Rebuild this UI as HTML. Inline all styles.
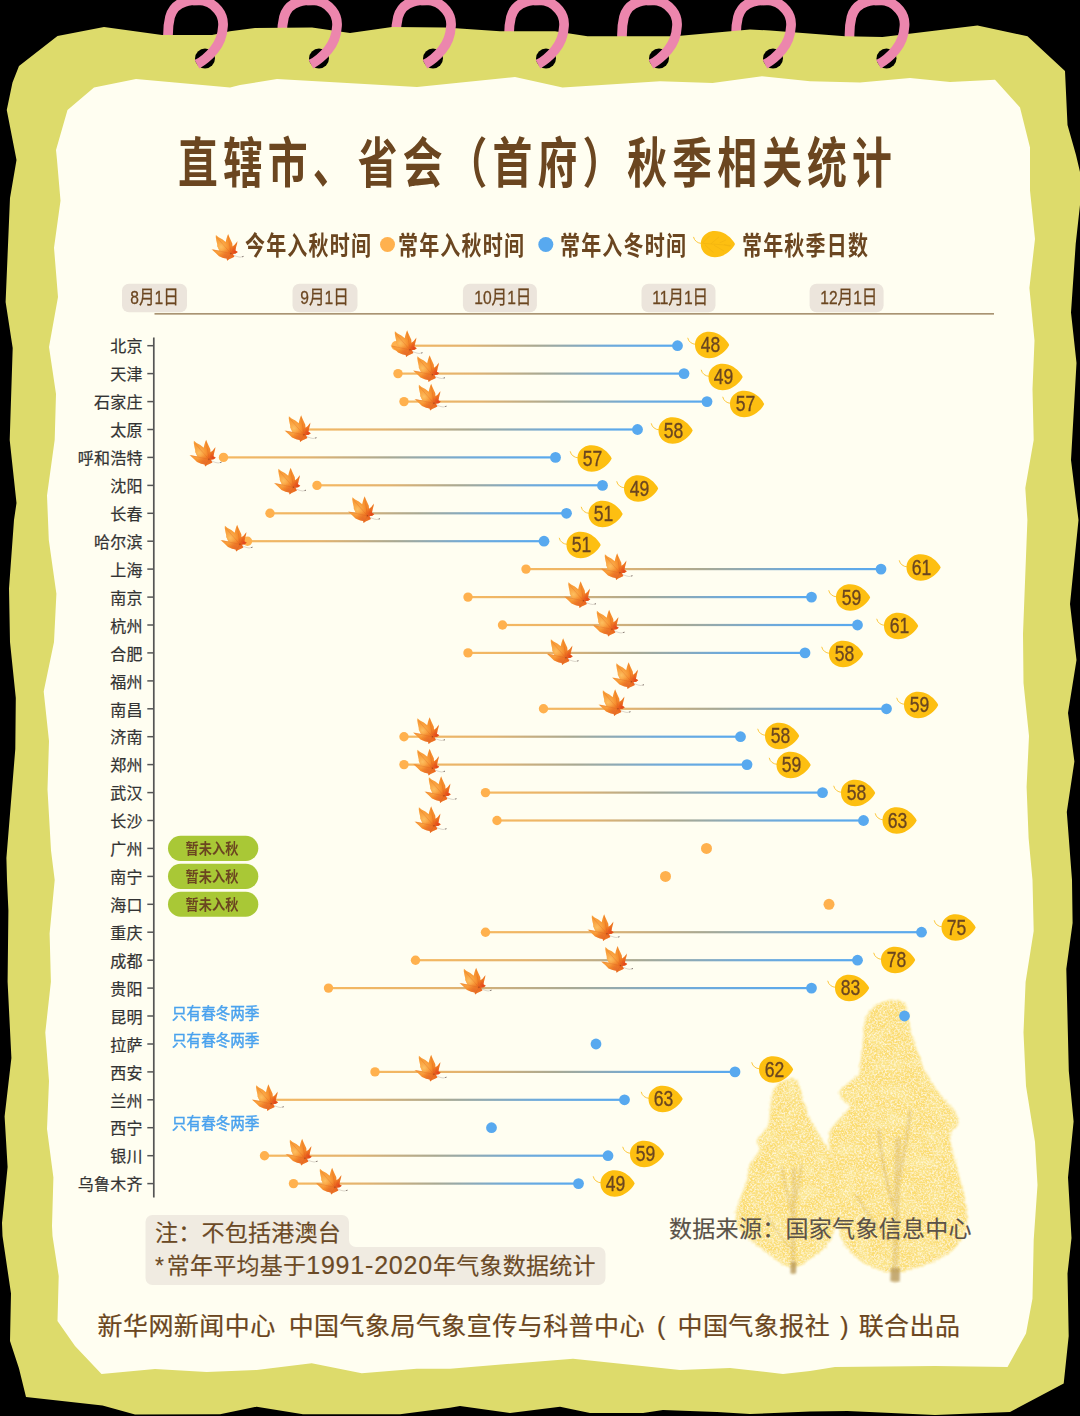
<!DOCTYPE html>
<html lang="zh-CN">
<head>
<meta charset="utf-8">
<title>直辖市、省会（首府）秋季相关统计</title>
<style>
html,body{margin:0;padding:0;background:#000;}
body{width:1080px;height:1416px;position:relative;overflow:hidden;font-family:"Liberation Sans","Noto Sans CJK SC",sans-serif;}
svg{position:absolute;left:0;top:0;}
.t{position:absolute;white-space:nowrap;line-height:1;}
.h{opacity:1;}
.title{left:177.5px;top:136.5px;font-size:54px;font-weight:bold;color:#6b4620;transform-origin:0 0;transform:scaleX(.737);letter-spacing:6.97px;}
.lg{font-size:26px;font-weight:bold;color:#6b4620;top:232.7px;transform-origin:0 0;transform:scaleX(.77);letter-spacing:1.5px;}
.ax{font-size:19px;color:#6b4620;top:288px;width:65px;text-align:center;-webkit-text-stroke:.3px #6b4620;}
.ax span{display:inline-block;transform:scaleX(.82);}
.city{font-size:16px;color:#333;width:100px;text-align:right;left:42.8px;letter-spacing:.25px;-webkit-text-stroke:.22px #333;}
.num{font-size:22.5px;color:#6b4620;width:34px;text-align:center;-webkit-text-stroke:.35px #6b4620;}
.num span{display:inline-block;transform:scaleX(.78);}
.pill{font-size:15px;font-weight:bold;color:#6b4620;width:90px;text-align:center;left:167px;}
.pill span{display:inline-block;transform:scaleX(.88);}
.two{font-size:15.5px;color:#4aa2ee;left:172px;-webkit-text-stroke:.45px #4aa2ee;transform-origin:0 0;transform:scaleX(.94);}
.note{font-size:23px;color:#6b4a26;left:155px;letter-spacing:.25px;-webkit-text-stroke:.15px #6b4a26;}
.note b{font-weight:normal;font-size:25px;letter-spacing:.8px;line-height:0;}
.note u{text-decoration:none;margin-right:2.5px;}
.src{font-size:23px;color:#5a5248;left:669px;top:1217.5px;letter-spacing:.3px;-webkit-text-stroke:.15px #5a5248;}
.foot{font-size:25px;color:#6b4620;left:97.5px;top:1313.5px;letter-spacing:.45px;-webkit-text-stroke:.2px #6b4620;}
.foot i{display:inline-block;font-style:normal;text-align:center;letter-spacing:0;}
</style>
</head>
<body>
<svg width="1080" height="1416" viewBox="0 0 1080 1416">
<defs>
<linearGradient id="lg" x1="0" x2="1" y1="0" y2="0"><stop offset="0" stop-color="#f6b860"/><stop offset=".25" stop-color="#e3b36f"/><stop offset=".5" stop-color="#a9a993"/><stop offset=".75" stop-color="#6faada"/><stop offset="1" stop-color="#58a9ef"/></linearGradient>
<linearGradient id="mg" x1="2" y1="4" x2="26" y2="22" gradientUnits="userSpaceOnUse"><stop offset="0" stop-color="#f9a23c"/><stop offset=".5" stop-color="#f68e2c"/><stop offset="1" stop-color="#ec6a1e"/></linearGradient>
<radialGradient id="mh" cx="9.5" cy="13" r="9" gradientUnits="userSpaceOnUse"><stop offset="0" stop-color="#fdc163" stop-opacity=".95"/><stop offset="1" stop-color="#fdb450" stop-opacity="0"/></radialGradient>
<radialGradient id="md" cx="23.5" cy="18" r="7" gradientUnits="userSpaceOnUse"><stop offset="0" stop-color="#e3401a" stop-opacity=".95"/><stop offset="1" stop-color="#e8581b" stop-opacity="0"/></radialGradient>
<radialGradient id="mb" cx="15" cy="23" r="8" gradientUnits="userSpaceOnUse"><stop offset="0" stop-color="#e46a2c" stop-opacity=".8"/><stop offset="1" stop-color="#e8701f" stop-opacity="0"/></radialGradient>
<path id="mo" d="M4.4 1 L7.1 3.3 L10.8 5.2 L14.2 7.9 L15 4.4 L16 1.5 L16.7 0 L17.5 2.3 L19.2 6 L20.8 9.4 L21 12.5 L23.3 10.6 L25.2 8.3 L25.9 7.1 L25.6 9.8 L24.6 13.1 L23.9 16.5 L26.3 17.9 L24.2 19.4 L21.3 19.9 L22.9 22.7 L20.4 24 L17.5 25.2 L15.6 26.7 L15.2 24.6 L11.7 24 L7.5 22.3 L4.2 19 L0 15.3 L3.8 16 L7.9 16.7 L5.8 12.3 L5.8 10.6 L4.8 6.5 L4.25 3.1 Z"/>
<g id="maple">
<path d="M19.5 19.6 C22.5 21.6 25.8 22.9 28.7 23.2 L32 22.4" fill="none" stroke="#7a6a60" stroke-width=".45" opacity=".6"/><path d="M30.6 22.8 L32 22.4" fill="none" stroke="#4a3a34" stroke-width=".7" opacity=".85"/>
<use href="#mo" fill="url(#mg)"/><use href="#mo" fill="url(#mh)"/><use href="#mo" fill="url(#mb)"/><use href="#mo" fill="url(#md)"/>
<path d="M19.5 19.6 L5.2 3.2 M19.5 19.6 L16.7 1.5 M19.5 19.6 L25.3 8.6 M19.5 19.6 L1.5 15.7 M19.5 19.6 L15.7 25.8 M19.5 19.6 L25.3 18" fill="none" stroke="#d6581c" stroke-width=".45" opacity=".55"/>
<circle cx="19.4" cy="19.5" r=".7" fill="#7a3a1c" opacity=".5"/>
</g>
<g id="badge">
<path d="M0.5 12.5 C-3 12.3 -6.5 10 -7.3 6" fill="none" stroke="#fcc22a" stroke-width=".9"/>
<path d="M34.2 13.2 C32.6 9.4 27 3 19.5 0.8 C15 -0.4 10 -0.2 6.5 2 C2.5 4.5 0 8 0 13.2 C0 18.4 2.5 21.9 6.5 24.4 C10 26.6 15 26.8 19.5 25.6 C27 23.4 32.6 17 34.2 13.2 Z" fill="#fdbf11"/>
</g>
<g id="ringA">
<path d="M5 46 L5 35 C5 28 5.5 23 7 17 C9 10 14 4 22 1.8 C27 0.3 31 0.2 36 0.2" fill="none" stroke="#ec86ad" stroke-width="9.7"/>
</g>
<g id="ringB">
<circle cx="42" cy="58.5" r="10" fill="#000"/>
<path d="M30 0.4 L35 0.2 C42 0.2 50 3.5 55 10 C59 15 60.5 20 60 26 C59.5 36 56 44 51 50 C46 56 41 60.5 34 64.3" fill="none" stroke="#ec86ad" stroke-width="9.7" stroke-linejoin="round"/>
</g>
<filter id="tex" x="-10%" y="-10%" width="120%" height="120%">
<feTurbulence type="fractalNoise" baseFrequency="0.55" numOctaves="2" seed="7" result="n"/>
<feTurbulence type="fractalNoise" baseFrequency="0.07" numOctaves="2" seed="11" result="n2"/>
<feDisplacementMap in="SourceGraphic" in2="n" scale="6" xChannelSelector="R" yChannelSelector="G" result="d"/>
<feGaussianBlur in="d" stdDeviation="0.9" result="b"/>
<feColorMatrix in="n" type="matrix" values="0 0 0 0 1  0 0 0 0 0.97  0 0 0 0 0.78  2.2 0 0 0 -0.9" result="spk"/>
<feColorMatrix in="n2" type="matrix" values="0 0 0 0 0.97  0 0 0 0 0.79  0 0 0 0 0.27  2.4 0 0 0 -0.95" result="deep"/>
<feComposite in="spk" in2="b" operator="in" result="spk2"/>
<feComposite in="deep" in2="b" operator="in" result="deep2"/>
<feMerge><feMergeNode in="b"/><feMergeNode in="deep2"/><feMergeNode in="spk2"/></feMerge>
</filter><filter id="bl" x="-20%" y="-5%" width="140%" height="110%"><feGaussianBlur stdDeviation="0.8"/></filter></defs>
<use href="#ringA" x="163" y="0"/>
<use href="#ringA" x="277" y="0"/>
<use href="#ringA" x="391" y="0"/>
<use href="#ringA" x="504" y="0"/>
<use href="#ringA" x="617" y="0"/>
<use href="#ringA" x="731" y="0"/>
<use href="#ringA" x="844.5" y="0"/>
<polygon points="6.75,110 12.5,82.5 19,66 57.5,36 104,27 162,35 212,35 230,31.2 255,28 312,27.5 350,33 392,27 445,27.5 500,31.2 555,31.2 587.5,36.2 675,36.2 750,29.5 770,30.5 845,36.2 882.5,37 977.5,25.5 1027.5,36.2 1065,71 1067.5,125 1076,155 1080,172 1080,205 1075.7,244 1071,312.5 1076.5,363 1071,460 1075.7,498 1078.5,520 1070,604 1076.5,660 1068,713 1074.4,761.5 1066.8,812 1072,880 1072.6,923 1066.3,969 1068.8,1071 1073.6,1121.5 1068,1177.5 1071.5,1238 1067.5,1273.5 1068.7,1336 1063.7,1383.5 1010,1412 935,1415 847.5,1411 810,1411.5 750,1414 717,1412 663,1410 643,1413 590,1413 560,1406.7 510,1413 460,1406 450,1407.7 400,1414.3 303,1414.3 256.7,1406.7 220,1414.3 135,1414.4 102.5,1405.6 26,1397 19,1368.5 10,1341 11,1293.5 2.5,1236 2,1223 7.6,1167 4.6,1116.5 11.4,1058 7.6,981.7 8.4,910.5 7,880 6.4,858 15.3,749 15.8,698 10,642 9,588.6 14,520 16.5,503 9.7,440 12.7,348 5.6,302 10,198 16.5,160" fill="#dddb6b"/>
<polygon points="56,150 67.5,110 94,87.5 136,79 230,87.5 240,85 277,79 417,87 515,77 562.5,87.5 660,81.2 712.5,83 762,76.3 810,81.2 860,82.5 910,78 950,82 995,79.8 1020,107.5 1030,147.5 1030,190.5 1035,239 1029.4,288 1034.5,340.5 1032.5,389 1033.7,440 1025.3,488 1027.4,520 1023,634 1023.5,683 1029,736 1026.6,787 1028.6,838 1032.5,880 1033.7,931 1025.6,982 1023.5,1032.5 1026,1086 1035,1142 1037.5,1185 1033.7,1240 1032.5,1298.5 1026,1333.5 1007.5,1367 935,1366 835,1367 810,1371 783,1374 730,1368 680,1370 573,1358.7 450,1368.7 416.7,1368.7 361.7,1373.3 311.7,1363.3 256.7,1370 206.7,1372 155,1369 101.5,1374 75,1346 57.5,1321 58.7,1276 52.5,1236 52,1226 53.4,1177.5 47,1129 49,1081 45.3,1032.5 50.9,981.7 49.6,933.4 54.7,880 51,850.5 47.5,789.5 49,741 43.7,691.6 54,642 56.4,593.7 48.8,540 48,520 47,495.6 54.7,439.7 56,394 49,347 58,297 54,247.7 60.5,200.7 57,160" fill="#fffef1"/>
<g opacity=".95">
<path d="M787.5 1080.0C783.8 1080.8 777.8 1083.3 775.0 1087.5C772.2 1091.7 772.1 1098.8 771.0 1105.0C769.9 1111.2 770.8 1119.2 768.5 1125.0C766.2 1130.8 758.9 1135.8 757.5 1140.0C756.1 1144.2 761.2 1145.8 760.0 1150.0C758.8 1154.2 752.1 1160.0 750.0 1165.0C747.9 1170.0 749.0 1174.6 747.5 1180.0C746.0 1185.4 742.9 1191.7 741.0 1197.5C739.1 1203.3 736.2 1209.6 736.0 1215.0C735.8 1220.4 736.4 1225.0 740.0 1230.0C743.6 1235.0 752.5 1240.8 757.5 1245.0C762.5 1249.2 765.4 1251.7 770.0 1255.0C774.6 1258.3 781.2 1263.0 785.0 1265.0C788.8 1267.0 790.5 1267.0 793.0 1267.0C795.5 1267.0 796.3 1267.0 800.0 1265.0C803.7 1263.0 810.0 1259.2 815.0 1255.0C820.0 1250.8 826.2 1246.7 830.0 1240.0C833.8 1233.3 836.8 1223.3 838.0 1215.0C839.2 1206.7 837.3 1198.3 837.0 1190.0C836.7 1181.7 837.2 1171.2 836.0 1165.0C834.8 1158.8 832.7 1157.1 830.0 1152.5C827.3 1147.9 823.3 1142.9 820.0 1137.5C816.7 1132.1 812.9 1126.2 810.0 1120.0C807.1 1113.8 804.6 1106.2 802.5 1100.0C800.4 1093.8 800.0 1085.8 797.5 1082.5C795.0 1079.2 791.2 1079.2 787.5 1080.0Z" fill="#fbdc6c" filter="url(#tex)"/>
<path d="M891.0 1001.0C886.0 1001.2 879.3 1002.5 875.0 1006.0C870.7 1009.5 866.9 1016.3 865.0 1022.0C863.1 1027.7 864.3 1032.8 863.5 1040.0C862.7 1047.2 860.8 1059.2 860.0 1065.0C859.2 1070.8 861.7 1070.8 858.5 1075.0C855.3 1079.2 843.5 1085.8 841.0 1090.0C838.5 1094.2 842.0 1097.1 843.5 1100.0C845.0 1102.9 852.1 1102.5 850.0 1107.5C847.9 1112.5 834.3 1122.9 831.0 1130.0C827.7 1137.1 829.3 1144.2 830.0 1150.0C830.7 1155.8 834.6 1158.3 835.0 1165.0C835.4 1171.7 832.1 1181.7 832.5 1190.0C832.9 1198.3 835.8 1206.7 837.5 1215.0C839.2 1223.3 838.8 1232.5 842.5 1240.0C846.2 1247.5 853.3 1255.0 860.0 1260.0C866.7 1265.0 876.7 1268.0 882.5 1270.0C888.3 1272.0 890.8 1272.0 895.0 1272.0C899.2 1272.0 901.7 1271.6 907.5 1270.0C913.3 1268.4 922.5 1265.8 930.0 1262.5C937.5 1259.2 946.7 1255.4 952.5 1250.0C958.3 1244.6 962.7 1236.7 965.0 1230.0C967.3 1223.3 967.3 1218.3 966.5 1210.0C965.7 1201.7 962.3 1189.6 960.0 1180.0C957.7 1170.4 954.2 1160.4 952.5 1152.5C950.8 1144.6 949.2 1137.1 950.0 1132.5C950.8 1127.9 956.7 1128.3 957.5 1125.0C958.3 1121.7 957.9 1117.5 955.0 1112.5C952.1 1107.5 945.0 1101.7 940.0 1095.0C935.0 1088.3 928.8 1079.6 925.0 1072.5C921.2 1065.4 920.0 1059.6 917.5 1052.5C915.0 1045.4 912.1 1037.9 910.0 1030.0C907.9 1022.1 908.2 1009.8 905.0 1005.0C901.8 1000.2 896.0 1000.8 891.0 1001.0Z" fill="#fbdc6c" filter="url(#tex)"/>
</g>
<g fill="none" stroke="#c9a55c" stroke-linecap="round" opacity=".3" filter="url(#bl)"><path d="M793 1272 L794 1170" stroke-width="4.5"/><path d="M792 1215 C788 1195 784 1180 782 1168" stroke-width="2.5"/><path d="M794.5 1205 C798 1190 800 1178 801.5 1165" stroke-width="2.5"/><path d="M895 1280 L898 1140" stroke-width="6"/><path d="M893 1205 C886 1180 880 1150 879 1130" stroke-width="3.5"/><path d="M897.5 1190 C903 1160 908 1130 910 1112" stroke-width="3.5"/><path d="M889 1240 C875 1225 862 1205 856 1195" stroke-width="2.5"/><path d="M790 1248 C782 1238 772 1225 767 1215" stroke-width="2"/></g><g fill="none" stroke="#b8995a" opacity=".75" filter="url(#bl)"><path d="M793.3 1273.5 L793.6 1262" stroke-width="5.5"/><path d="M895 1281.5 L895.4 1268" stroke-width="9.5"/></g>
<use href="#ringB" x="163" y="0"/>
<use href="#ringB" x="277" y="0"/>
<use href="#ringB" x="391" y="0"/>
<use href="#ringB" x="504" y="0"/>
<use href="#ringB" x="617" y="0"/>
<use href="#ringB" x="731" y="0"/>
<use href="#ringB" x="844.5" y="0"/>
<rect x="122.0" y="283.7" width="65" height="28.6" rx="7" fill="#ece5dc"/>
<rect x="292.5" y="283.7" width="65" height="28.6" rx="7" fill="#ece5dc"/>
<rect x="462.9" y="283.7" width="74" height="28.6" rx="7" fill="#ece5dc"/>
<rect x="641.5" y="283.7" width="74" height="28.6" rx="7" fill="#ece5dc"/>
<rect x="809.6" y="283.7" width="74" height="28.6" rx="7" fill="#ece5dc"/>
<line x1="154.5" y1="313.9" x2="994" y2="313.9" stroke="#8d7049" stroke-width="1.4"/>
<line x1="153.8" y1="337.5" x2="153.8" y2="1197.5" stroke="#555" stroke-width="1.7"/>
<line x1="147.3" y1="345.7" x2="153.8" y2="345.7" stroke="#555" stroke-width="1.5"/>
<line x1="147.3" y1="373.6" x2="153.8" y2="373.6" stroke="#555" stroke-width="1.5"/>
<line x1="147.3" y1="401.6" x2="153.8" y2="401.6" stroke="#555" stroke-width="1.5"/>
<line x1="147.3" y1="429.5" x2="153.8" y2="429.5" stroke="#555" stroke-width="1.5"/>
<line x1="147.3" y1="457.4" x2="153.8" y2="457.4" stroke="#555" stroke-width="1.5"/>
<line x1="147.3" y1="485.4" x2="153.8" y2="485.4" stroke="#555" stroke-width="1.5"/>
<line x1="147.3" y1="513.3" x2="153.8" y2="513.3" stroke="#555" stroke-width="1.5"/>
<line x1="147.3" y1="541.2" x2="153.8" y2="541.2" stroke="#555" stroke-width="1.5"/>
<line x1="147.3" y1="569.1" x2="153.8" y2="569.1" stroke="#555" stroke-width="1.5"/>
<line x1="147.3" y1="597.1" x2="153.8" y2="597.1" stroke="#555" stroke-width="1.5"/>
<line x1="147.3" y1="625.0" x2="153.8" y2="625.0" stroke="#555" stroke-width="1.5"/>
<line x1="147.3" y1="652.9" x2="153.8" y2="652.9" stroke="#555" stroke-width="1.5"/>
<line x1="147.3" y1="680.9" x2="153.8" y2="680.9" stroke="#555" stroke-width="1.5"/>
<line x1="147.3" y1="708.8" x2="153.8" y2="708.8" stroke="#555" stroke-width="1.5"/>
<line x1="147.3" y1="736.7" x2="153.8" y2="736.7" stroke="#555" stroke-width="1.5"/>
<line x1="147.3" y1="764.6" x2="153.8" y2="764.6" stroke="#555" stroke-width="1.5"/>
<line x1="147.3" y1="792.6" x2="153.8" y2="792.6" stroke="#555" stroke-width="1.5"/>
<line x1="147.3" y1="820.5" x2="153.8" y2="820.5" stroke="#555" stroke-width="1.5"/>
<line x1="147.3" y1="848.4" x2="153.8" y2="848.4" stroke="#555" stroke-width="1.5"/>
<line x1="147.3" y1="876.4" x2="153.8" y2="876.4" stroke="#555" stroke-width="1.5"/>
<line x1="147.3" y1="904.3" x2="153.8" y2="904.3" stroke="#555" stroke-width="1.5"/>
<line x1="147.3" y1="932.2" x2="153.8" y2="932.2" stroke="#555" stroke-width="1.5"/>
<line x1="147.3" y1="960.2" x2="153.8" y2="960.2" stroke="#555" stroke-width="1.5"/>
<line x1="147.3" y1="988.1" x2="153.8" y2="988.1" stroke="#555" stroke-width="1.5"/>
<line x1="147.3" y1="1016.0" x2="153.8" y2="1016.0" stroke="#555" stroke-width="1.5"/>
<line x1="147.3" y1="1044.0" x2="153.8" y2="1044.0" stroke="#555" stroke-width="1.5"/>
<line x1="147.3" y1="1071.9" x2="153.8" y2="1071.9" stroke="#555" stroke-width="1.5"/>
<line x1="147.3" y1="1099.8" x2="153.8" y2="1099.8" stroke="#555" stroke-width="1.5"/>
<line x1="147.3" y1="1127.7" x2="153.8" y2="1127.7" stroke="#555" stroke-width="1.5"/>
<line x1="147.3" y1="1155.7" x2="153.8" y2="1155.7" stroke="#555" stroke-width="1.5"/>
<line x1="147.3" y1="1183.6" x2="153.8" y2="1183.6" stroke="#555" stroke-width="1.5"/>
<use href="#maple" x="211.5" y="234"/>
<circle cx="387.5" cy="244.5" r="7.5" fill="#ffb14e"/>
<circle cx="545.8" cy="244.5" r="7.5" fill="#58a9ef"/>
<use href="#badge" x="700.8" y="230.9"/>
<path d="M702.5 243.3 L731 245.5 M702.5 243 L709.5 236 M711 243.8 L719 236.8 M719.5 242.8 L726 240 M705 245 L713.5 252.5 M714 245.2 L724 251 M724 244.5 L730.5 246.5" fill="none" stroke="#eeb010" stroke-width=".7" opacity=".75"/>
<path d="M153 1215 H342 a7 7 0 0 1 7 7 V1240 a7 7 0 0 0 7 7 H598.5 a7 7 0 0 1 7 7 V1278 a7 7 0 0 1 -7 7 H152.5 a7 7 0 0 1 -7 -7 V1222 a7 7 0 0 1 7 -7 Z" fill="#f0ebe1"/>
<rect x="396" y="344.6" width="281.5" height="2.2" fill="url(#lg)"/>
<circle cx="396" cy="345.7" r="4.7" fill="#ffb14e"/>
<circle cx="677.5" cy="345.7" r="5.4" fill="#58a9ef"/>
<use href="#badge" x="695" y="331.8"/>
<use href="#maple" x="390.5" y="330.3"/>
<rect x="398" y="372.5" width="286" height="2.2" fill="url(#lg)"/>
<circle cx="398" cy="373.6" r="4.7" fill="#ffb14e"/>
<circle cx="684" cy="373.6" r="5.4" fill="#58a9ef"/>
<use href="#badge" x="708.5" y="363.8"/>
<use href="#maple" x="413.0" y="355.3"/>
<rect x="404" y="400.5" width="303" height="2.2" fill="url(#lg)"/>
<circle cx="404" cy="401.6" r="4.7" fill="#ffb14e"/>
<circle cx="707" cy="401.6" r="5.4" fill="#58a9ef"/>
<use href="#badge" x="730" y="390.8"/>
<use href="#maple" x="414.5" y="383.8"/>
<rect x="299" y="428.4" width="338.5" height="2.2" fill="url(#lg)"/>
<circle cx="637.5" cy="429.5" r="5.4" fill="#58a9ef"/>
<use href="#badge" x="658.5" y="417.3"/>
<use href="#maple" x="284.5" y="415.3"/>
<rect x="223.5" y="456.3" width="332.0" height="2.2" fill="url(#lg)"/>
<circle cx="223.5" cy="457.4" r="4.7" fill="#ffb14e"/>
<circle cx="555.5" cy="457.4" r="5.4" fill="#58a9ef"/>
<use href="#badge" x="577.5" y="445.3"/>
<use href="#maple" x="189.5" y="439.8"/>
<rect x="317" y="484.2" width="285.5" height="2.2" fill="url(#lg)"/>
<circle cx="317" cy="485.4" r="4.7" fill="#ffb14e"/>
<circle cx="602.5" cy="485.4" r="5.4" fill="#58a9ef"/>
<use href="#badge" x="624" y="475.3"/>
<use href="#maple" x="274.0" y="467.8"/>
<rect x="270" y="512.2" width="296.5" height="2.2" fill="url(#lg)"/>
<circle cx="270" cy="513.3" r="4.7" fill="#ffb14e"/>
<circle cx="566.5" cy="513.3" r="5.4" fill="#58a9ef"/>
<use href="#badge" x="588.5" y="500.8"/>
<use href="#maple" x="348.0" y="496.3"/>
<rect x="247.5" y="540.1" width="296.5" height="2.2" fill="url(#lg)"/>
<circle cx="247.5" cy="541.2" r="4.7" fill="#ffb14e"/>
<circle cx="544" cy="541.2" r="5.4" fill="#58a9ef"/>
<use href="#badge" x="566.5" y="531.8"/>
<use href="#maple" x="220.5" y="524.8"/>
<rect x="526" y="568.0" width="355" height="2.2" fill="url(#lg)"/>
<circle cx="526" cy="569.1" r="4.7" fill="#ffb14e"/>
<circle cx="881" cy="569.1" r="5.4" fill="#58a9ef"/>
<use href="#badge" x="906.5" y="554.3"/>
<use href="#maple" x="600.5" y="553.3"/>
<rect x="468" y="596.0" width="343.5" height="2.2" fill="url(#lg)"/>
<circle cx="468" cy="597.1" r="4.7" fill="#ffb14e"/>
<circle cx="811.5" cy="597.1" r="5.4" fill="#58a9ef"/>
<use href="#badge" x="836" y="584.3"/>
<use href="#maple" x="564.0" y="581.3"/>
<rect x="502.5" y="623.9" width="355.0" height="2.2" fill="url(#lg)"/>
<circle cx="502.5" cy="625.0" r="4.7" fill="#ffb14e"/>
<circle cx="857.5" cy="625.0" r="5.4" fill="#58a9ef"/>
<use href="#badge" x="884" y="612.8"/>
<use href="#maple" x="592.5" y="609.8"/>
<rect x="468" y="651.8" width="337" height="2.2" fill="url(#lg)"/>
<circle cx="468" cy="652.9" r="4.7" fill="#ffb14e"/>
<circle cx="805" cy="652.9" r="5.4" fill="#58a9ef"/>
<use href="#badge" x="829" y="640.8"/>
<use href="#maple" x="546.5" y="638.3"/>
<use href="#maple" x="612.0" y="662.3"/>
<rect x="543.5" y="707.7" width="343.0" height="2.2" fill="url(#lg)"/>
<circle cx="543.5" cy="708.8" r="4.7" fill="#ffb14e"/>
<circle cx="886.5" cy="708.8" r="5.4" fill="#58a9ef"/>
<use href="#badge" x="904" y="691.8"/>
<use href="#maple" x="598.5" y="689.3"/>
<rect x="404" y="735.6" width="336.5" height="2.2" fill="url(#lg)"/>
<circle cx="404" cy="736.7" r="4.7" fill="#ffb14e"/>
<circle cx="740.5" cy="736.7" r="5.4" fill="#58a9ef"/>
<use href="#badge" x="765" y="722.8"/>
<use href="#maple" x="413.0" y="717.3"/>
<rect x="404" y="763.5" width="343" height="2.2" fill="url(#lg)"/>
<circle cx="404" cy="764.6" r="4.7" fill="#ffb14e"/>
<circle cx="747" cy="764.6" r="5.4" fill="#58a9ef"/>
<use href="#badge" x="776.5" y="751.8"/>
<use href="#maple" x="413.0" y="748.8"/>
<rect x="485.5" y="791.5" width="337.0" height="2.2" fill="url(#lg)"/>
<circle cx="485.5" cy="792.6" r="4.7" fill="#ffb14e"/>
<circle cx="822.5" cy="792.6" r="5.4" fill="#58a9ef"/>
<use href="#badge" x="841" y="779.8"/>
<use href="#maple" x="424.5" y="776.3"/>
<rect x="497" y="819.4" width="366.5" height="2.2" fill="url(#lg)"/>
<circle cx="497" cy="820.5" r="4.7" fill="#ffb14e"/>
<circle cx="863.5" cy="820.5" r="5.4" fill="#58a9ef"/>
<use href="#badge" x="882.5" y="807.3"/>
<use href="#maple" x="414.5" y="806.3"/>
<circle cx="706.5" cy="848.4" r="5.5" fill="#ffb14e"/>
<rect x="168" y="835.8" width="90.3" height="25.1" rx="12.55" fill="#a9c836"/>
<circle cx="665.5" cy="876.4" r="5.5" fill="#ffb14e"/>
<rect x="168" y="863.8" width="90.3" height="25.1" rx="12.55" fill="#a9c836"/>
<circle cx="829" cy="904.3" r="5.5" fill="#ffb14e"/>
<rect x="168" y="891.7" width="90.3" height="25.1" rx="12.55" fill="#a9c836"/>
<rect x="485.5" y="931.1" width="436.0" height="2.2" fill="url(#lg)"/>
<circle cx="485.5" cy="932.2" r="4.7" fill="#ffb14e"/>
<circle cx="921.5" cy="932.2" r="5.4" fill="#58a9ef"/>
<use href="#badge" x="941.5" y="914.3"/>
<use href="#maple" x="587.5" y="914.3"/>
<rect x="415.5" y="959.1" width="442.0" height="2.2" fill="url(#lg)"/>
<circle cx="415.5" cy="960.2" r="4.7" fill="#ffb14e"/>
<circle cx="857.5" cy="960.2" r="5.4" fill="#58a9ef"/>
<use href="#badge" x="881" y="946.8"/>
<use href="#maple" x="601.0" y="946.1"/>
<rect x="328.5" y="987.0" width="483.0" height="2.2" fill="url(#lg)"/>
<circle cx="328.5" cy="988.1" r="4.7" fill="#ffb14e"/>
<circle cx="811.5" cy="988.1" r="5.4" fill="#58a9ef"/>
<use href="#badge" x="835" y="974.8"/>
<use href="#maple" x="459.5" y="967.8"/>
<circle cx="904.5" cy="1016.0" r="5.4" fill="#58a9ef"/>
<circle cx="596" cy="1044.0" r="5.4" fill="#58a9ef"/>
<rect x="375" y="1070.8" width="360" height="2.2" fill="url(#lg)"/>
<circle cx="375" cy="1071.9" r="4.7" fill="#ffb14e"/>
<circle cx="735" cy="1071.9" r="5.4" fill="#58a9ef"/>
<use href="#badge" x="759" y="1056.3"/>
<use href="#maple" x="414.5" y="1054.8"/>
<rect x="266.3" y="1098.7" width="358.2" height="2.2" fill="url(#lg)"/>
<circle cx="624.5" cy="1099.8" r="5.4" fill="#58a9ef"/>
<use href="#badge" x="648.5" y="1085.8"/>
<use href="#maple" x="251.8" y="1084.3"/>
<circle cx="491.5" cy="1127.7" r="5.4" fill="#58a9ef"/>
<rect x="264.5" y="1154.6" width="343.5" height="2.2" fill="url(#lg)"/>
<circle cx="264.5" cy="1155.7" r="4.7" fill="#ffb14e"/>
<circle cx="608" cy="1155.7" r="5.4" fill="#58a9ef"/>
<use href="#badge" x="630" y="1140.8"/>
<use href="#maple" x="285.5" y="1138.8"/>
<rect x="293.5" y="1182.5" width="285.0" height="2.2" fill="url(#lg)"/>
<circle cx="293.5" cy="1183.6" r="4.7" fill="#ffb14e"/>
<circle cx="578.5" cy="1183.6" r="5.4" fill="#58a9ef"/>
<use href="#badge" x="600.5" y="1170.3"/>
<use href="#maple" x="315.5" y="1167.8"/>
</svg><div class="t h title">直辖市、省会（首府）秋季相关统计</div>
<div class="t h lg" style="left:245px">今年入秋时间</div>
<div class="t h lg" style="left:398px">常年入秋时间</div>
<div class="t h lg" style="left:560px">常年入冬时间</div>
<div class="t h lg" style="left:742px">常年秋季日数</div>
<div class="t h ax" style="left:122.0px"><span>8月1日</span></div>
<div class="t h ax" style="left:292.5px"><span>9月1日</span></div>
<div class="t h ax" style="left:467.5px"><span>10月1日</span></div>
<div class="t h ax" style="left:646.0px"><span>11月1日</span></div>
<div class="t h ax" style="left:813.5px"><span>12月1日</span></div>
<div class="t h city" style="top:339.4px">北京</div>
<div class="t num" style="left:693.5px;top:334.0px"><span>48</span></div>
<div class="t h city" style="top:367.3px">天津</div>
<div class="t num" style="left:707.0px;top:366.0px"><span>49</span></div>
<div class="t h city" style="top:395.3px">石家庄</div>
<div class="t num" style="left:728.5px;top:393.0px"><span>57</span></div>
<div class="t h city" style="top:423.2px">太原</div>
<div class="t num" style="left:657.0px;top:419.5px"><span>58</span></div>
<div class="t h city" style="top:451.1px">呼和浩特</div>
<div class="t num" style="left:576.0px;top:447.5px"><span>57</span></div>
<div class="t h city" style="top:479.1px">沈阳</div>
<div class="t num" style="left:622.5px;top:477.5px"><span>49</span></div>
<div class="t h city" style="top:507.0px">长春</div>
<div class="t num" style="left:587.0px;top:503.0px"><span>51</span></div>
<div class="t h city" style="top:534.9px">哈尔滨</div>
<div class="t num" style="left:565.0px;top:534.0px"><span>51</span></div>
<div class="t h city" style="top:562.8px">上海</div>
<div class="t num" style="left:905.0px;top:556.5px"><span>61</span></div>
<div class="t h city" style="top:590.8px">南京</div>
<div class="t num" style="left:834.5px;top:586.5px"><span>59</span></div>
<div class="t h city" style="top:618.7px">杭州</div>
<div class="t num" style="left:882.5px;top:615.0px"><span>61</span></div>
<div class="t h city" style="top:646.6px">合肥</div>
<div class="t num" style="left:827.5px;top:643.0px"><span>58</span></div>
<div class="t h city" style="top:674.6px">福州</div>
<div class="t h city" style="top:702.5px">南昌</div>
<div class="t num" style="left:902.5px;top:694.0px"><span>59</span></div>
<div class="t h city" style="top:730.4px">济南</div>
<div class="t num" style="left:763.5px;top:725.0px"><span>58</span></div>
<div class="t h city" style="top:758.4px">郑州</div>
<div class="t num" style="left:775.0px;top:754.0px"><span>59</span></div>
<div class="t h city" style="top:786.3px">武汉</div>
<div class="t num" style="left:839.5px;top:782.0px"><span>58</span></div>
<div class="t h city" style="top:814.2px">长沙</div>
<div class="t num" style="left:881.0px;top:809.5px"><span>63</span></div>
<div class="t h city" style="top:842.1px">广州</div>
<div class="t h pill" style="top:840.9px"><span>暂未入秋</span></div>
<div class="t h city" style="top:870.1px">南宁</div>
<div class="t h pill" style="top:868.9px"><span>暂未入秋</span></div>
<div class="t h city" style="top:898.0px">海口</div>
<div class="t h pill" style="top:896.8px"><span>暂未入秋</span></div>
<div class="t h city" style="top:925.9px">重庆</div>
<div class="t num" style="left:940.0px;top:916.5px"><span>75</span></div>
<div class="t h city" style="top:953.9px">成都</div>
<div class="t num" style="left:879.5px;top:949.0px"><span>78</span></div>
<div class="t h city" style="top:981.8px">贵阳</div>
<div class="t num" style="left:833.5px;top:977.0px"><span>83</span></div>
<div class="t h city" style="top:1009.7px">昆明</div>
<div class="t h two" style="top:1006.4px">只有春冬两季</div>
<div class="t h city" style="top:1037.7px">拉萨</div>
<div class="t h two" style="top:1032.9px">只有春冬两季</div>
<div class="t h city" style="top:1065.6px">西安</div>
<div class="t num" style="left:757.5px;top:1058.5px"><span>62</span></div>
<div class="t h city" style="top:1093.5px">兰州</div>
<div class="t num" style="left:647.0px;top:1088.0px"><span>63</span></div>
<div class="t h city" style="top:1121.4px">西宁</div>
<div class="t h two" style="top:1116.3px">只有春冬两季</div>
<div class="t h city" style="top:1149.4px">银川</div>
<div class="t num" style="left:628.5px;top:1143.0px"><span>59</span></div>
<div class="t h city" style="top:1177.3px">乌鲁木齐</div>
<div class="t num" style="left:599.0px;top:1172.5px"><span>49</span></div>
<div class="t h note" style="top:1222px">注：不包括港澳台</div>
<div class="t h note" style="top:1254.5px"><u>*</u>常年平均基于<b>1991-2020</b>年气象数据统计</div>
<div class="t h src">数据来源：国家气象信息中心</div>
<div class="t h foot">新华网新闻中心<i style="width:13px"> </i>中国气象局气象宣传与科普中心<i style="width:32.5px">(</i>中国气象报社<i style="width:28.5px">)</i>联合出品</div>
</body>
</html>
